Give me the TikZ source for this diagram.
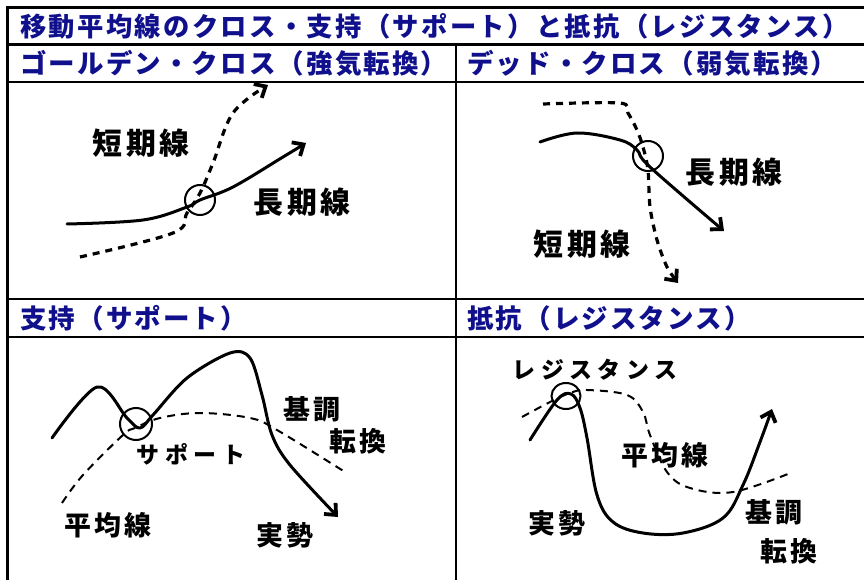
\documentclass[tikz,border=0pt]{standalone}
\usepackage{fontspec}
\newfontfamily\jp{Noto Sans CJK JP}
\usetikzlibrary{arrows.meta,shapes.geometric}
\definecolor{navy}{RGB}{16,16,140}
\tikzset{
  frame/.style={line width=2.5bp, black},
  head/.style={font=\jp\bfseries\fontsize{26.6}{27}\selectfont\addfontfeature{LetterSpace=8}, text=navy, anchor=west, inner sep=0},
  titlehead/.style={head, font=\jp\bfseries\fontsize{26.4}{27}\selectfont\addfontfeature{LetterSpace=9}},
  lblA/.style={font=\jp\bfseries\fontsize{30}{30}\selectfont\addfontfeature{LetterSpace=12}, inner sep=0},
  lblB/.style={font=\jp\bfseries\fontsize{27}{27}\selectfont\addfontfeature{LetterSpace=10}, inner sep=0},
  lblK/.style={font=\jp\bfseries\fontsize{23}{23}\selectfont\addfontfeature{LetterSpace=24}, inner sep=0},
  real/.style={line width=3bp, line cap=round, line join=round},
  avgA/.style={line width=3.2bp, dash pattern=on 7bp off 6bp},
  avgB/.style={line width=2bp, dash pattern=on 8bp off 6bp},
  barb/.style={-{Straight Barb[length=9bp,width=16bp,line width=3.8bp]}},
  ring/.style={circle, draw, line width=2bp, inner sep=0},
  oval/.style={ellipse, draw, line width=2bp, inner sep=0},
}
\begin{document}
\begin{tikzpicture}[x=1bp,y=-1bp]
\useasboundingbox (0,0) rectangle (864,580);
% grid
\draw[frame] (7.5,580) -- (7.5,7.5) -- (866,7.5);
\draw[frame] (6,44.5) -- (866,44.5);
\draw[frame] (6,82) -- (866,82);
\draw[frame] (6,299) -- (866,299);
\draw[frame] (6,337) -- (866,337);
\draw[frame] (456,44.5) -- (456,582);
% headers
\node[titlehead] (t0) at (20,26) {移動平均線のクロス・支持（サポート）と抵抗（レジスタンス）};
\node[head] (t1) at (20,63) {ゴールデン・クロス（強気転換）};
\node[head] (t2) at (467,63) {デッド・クロス（弱気転換）};
\node[head] (t3) at (20,318) {支持（サポート）};
\node[head] (t4) at (467,318) {抵抗（レジスタンス）};

% ---------- panel 1: golden cross
\node[ring, minimum size=30bp] (c1) at (200,200) {};
\draw[real, barb] plot[smooth, tension=0.6] coordinates {(67,224) (143,220) (187,207) (200,200) (233,187) (283,157) (306,143)};
\draw[avgA, barb] plot[smooth, tension=0.6] coordinates {(80,257) (173,233) (187,213) (200,193) (213,163) (233,113) (268,85)};
\node[lblA] (l1a) at (141,143) {短期線};
\node[lblA] (l1b) at (302,202) {長期線};

% ---------- panel 2: dead cross
\node[ring, minimum size=30bp] (c2) at (648,156) {};
\draw[real, barb] plot[smooth, tension=0.6] coordinates {(540,142) (577,133) (620,140) (637,150) (650,167) (724,231)};
\draw[avgA, barb] plot[smooth, tension=0.5] coordinates {(543,104) (620,103) (628,113) (637,130) (643,147) (648,170) (650,207) (657,240) (667,267) (678,283)};
\node[lblA] (l2a) at (734,172) {長期線};
\node[lblA] (l2b) at (582,244) {短期線};

% ---------- panel 3: support
\node[ring, minimum size=32bp] (c3) at (136,424) {};
\draw[real, barb] plot[smooth, tension=0.55] coordinates {(52,438) (97,387) (127,418) (140,428) (153,415) (187,378) (230,353) (250,358) (262,395) (272,435) (290,465) (338,517)};
\draw[avgB] plot[smooth, tension=0.6] coordinates {(62,503) (83,475) (123,435) (135,428) (160,418) (200,413) (250,418) (277,430) (345,472)};
\node[lblK] (l3a) at (191,454) {サポート};
\node[lblB] (l3b) at (312,409) {基調};
\node[lblB] (l3c) at (358,441) {転換};
\node[lblB] (l3d) at (108,525) {平均線};
\node[lblB] (l3e) at (285,535) {実勢};

% ---------- panel 4: resistance
\node[oval, minimum width=29bp, minimum height=26bp] (c4) at (566,396) {};
\draw[real, barb] plot[smooth, tension=0.6] coordinates {(530,440) (557,400) (571,394) (580,408) (587,438) (597,495) (613,522) (643,533) (683,533) (723,518) (743,485) (760,442) (772,409)};
\draw[avgB] plot[smooth, tension=0.6] coordinates {(522,417) (550,402) (570,393) (587,390) (627,395) (643,412) (650,435) (667,472) (690,488) (733,492) (793,472)};
\node[lblK] (l4a) at (595,370) {レジスタンス};
\node[lblB] (l4b) at (665,455) {平均線};
\node[lblB] (l4c) at (557,523) {実勢};
\node[lblB] (l4d) at (774,512) {基調};
\node[lblB] (l4e) at (789,551) {転換};
\end{tikzpicture}
\end{document}
